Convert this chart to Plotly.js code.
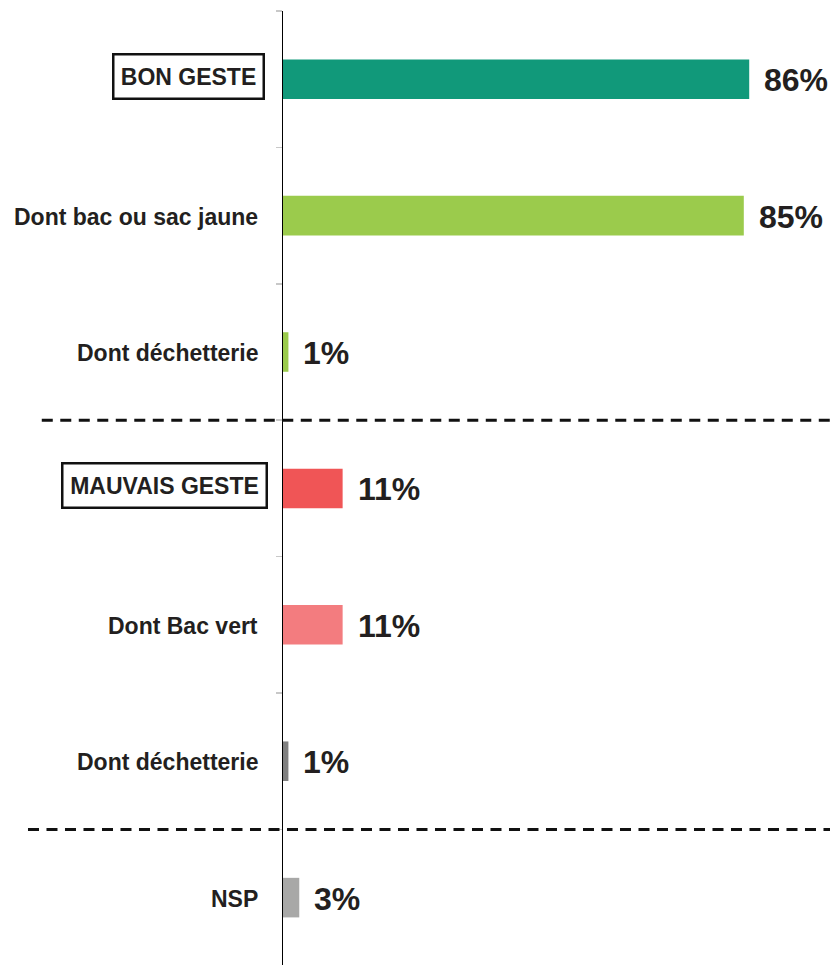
<!DOCTYPE html>
<html>
<head>
<meta charset="utf-8">
<script src="https://cdn.plot.ly/plotly-3.0.1.min.js"></script>
<style>html,body{margin:0;padding:0;background:#fff;}#chart{width:830px;height:965px;}</style>
</head>
<body>
<div id="chart"></div>
<script>
const categories = ["BON GESTE", "Dont bac ou sac jaune", "Dont déchetterie", "MAUVAIS GESTE", "Dont Bac vert", "Dont déchetterie ", "NSP"];
const values = [86, 85, 1, 11, 11, 1, 3];
const valueLabels = ["86%", "85%", "1%", "11%", "11%", "1%", "3%"];
const boxed = [true, false, false, true, false, false, false];
const colors = ["#11997a", "#9bcb4c", "#9bcb4c", "#f05556", "#f37c7f", "#808080", "#a8a8a7"];
const separators = [2.5, 5.5];

const idx = categories.map((c, i) => i);
const textColor = "#231f20";

const trace = {
  type: "bar",
  orientation: "h",
  x: values,
  y: idx,
  width: 0.29,
  marker: {color: colors, line: {width: 0}},
  hoverinfo: "skip"
};

const annotations = [];
categories.forEach((c, i) => {
  if (boxed[i]) {
    const isBon = c === "BON GESTE";
    annotations.push({
      xref: "paper", yref: "y", x: 0, y: i, xanchor: "right", yanchor: "middle",
      xshift: isBon ? -18 : -15, yshift: 3,
      text: c.trim(), showarrow: false,
      font: {family: "Liberation Sans, Arial", size: 23, color: textColor, weight: "bold"},
      bordercolor: "#111", borderwidth: 2.5, borderpad: 0,
      width: isBon ? 148 : 202, height: 42, align: "center", valign: "middle"
    });
  } else {
    annotations.push({
      xref: "paper", yref: "y", x: 0, y: i, xanchor: "right", yanchor: "middle",
      xshift: -25, yshift: -1,
      text: c.trim(), showarrow: false, borderpad: 0, borderwidth: 0,
      font: {family: "Liberation Sans, Arial", size: 23, color: textColor, weight: "bold"}
    });
  }
  annotations.push({
    xref: "x", yref: "y", x: values[i], y: i, xanchor: "left", yanchor: "middle",
    xshift: 15, yshift: -1, text: valueLabels[i], showarrow: false, borderpad: 0, borderwidth: 0,
    font: {family: "Liberation Sans, Arial", size: 32, color: textColor, weight: "bold"}
  });
});

const shapes = [
  {type: "line", xref: "paper", yref: "y", x0: -0.441, x1: 1, y0: separators[0], y1: separators[0],
   line: {color: "#111", width: 3, dash: "11px,7.5px"}},
  {type: "line", xref: "paper", yref: "y", x0: -0.4662, x1: 1, y0: separators[1], y1: separators[1],
   line: {color: "#111", width: 3, dash: "11px,7.5px"}}
];

const tickvals = [];
for (let k = -0.5; k <= 6.5; k += 1) tickvals.push(k);

const layout = {
  width: 830, height: 965,
  margin: {l: 283, r: 0, t: 11, b: 0},
  paper_bgcolor: "#fff", plot_bgcolor: "#fff",
  showlegend: false,
  xaxis: {range: [0, 100.9], visible: false, fixedrange: true},
  yaxis: {
    range: [6.494, -0.5], showgrid: false, zeroline: false,
    showline: true, linecolor: "#000", linewidth: 1.5,
    tickmode: "array", tickvals: tickvals, showticklabels: false,
    ticks: "outside", ticklen: 6, tickcolor: "#c8c8c8", tickwidth: 1.5
  },
  shapes: shapes,
  annotations: annotations
};

Plotly.newPlot("chart", [trace], layout, {displayModeBar: false, staticPlot: true});
</script>
</body>
</html>
